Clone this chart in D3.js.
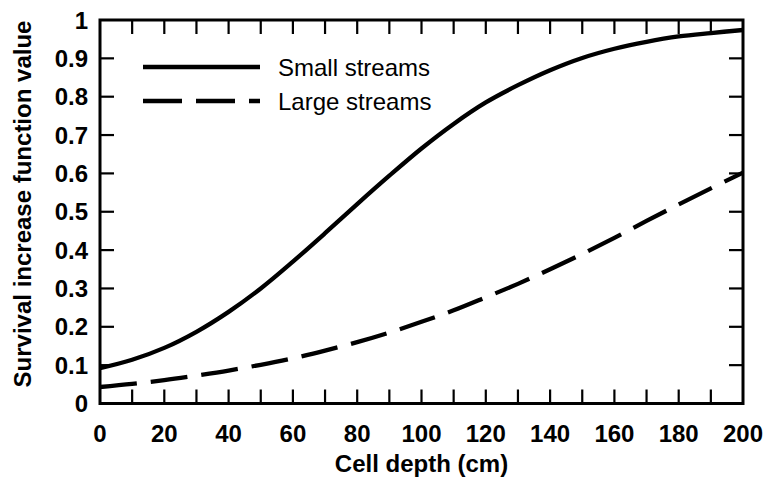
<!DOCTYPE html>
<html><head><meta charset="utf-8">
<script src="https://cdn.jsdelivr.net/npm/d3@7"></script>
<style>body{margin:0;background:#fff}svg{display:block}</style>
</head><body>
<svg id="c" width="768" height="479"></svg>
<script>
const depth = [0,10,20,30,40,50,60,70,80,90,100,110,120,130,140,150,160,170,180,190,200];
const smallStreams = [0.092,0.114,0.145,0.187,0.239,0.300,0.370,0.444,0.520,0.594,0.665,0.729,0.785,0.830,0.869,0.901,0.925,0.943,0.957,0.966,0.974];
const largeStreams = [0.043,0.051,0.061,0.073,0.086,0.101,0.118,0.138,0.160,0.185,0.213,0.243,0.277,0.312,0.350,0.390,0.432,0.476,0.519,0.561,0.602];
const xTickLabels = [0,20,40,60,80,100,120,140,160,180,200];
const yTickLabels = [0,0.1,0.2,0.3,0.4,0.5,0.6,0.7,0.8,0.9,1];
const seriesNames = ["Small streams","Large streams"];

const svg = d3.select("#c");
const L=100, R=743, T=20, B=403.5;
const x = d3.scaleLinear().domain([0,200]).range([L,R]);
const y = d3.scaleLinear().domain([0,1]).range([B,T]);
const font = "Arial, 'Liberation Sans', Helvetica, sans-serif";

const line = d3.line().x((d,i)=>x(depth[i])).y(d=>y(d)).curve(d3.curveCatmullRom.alpha(0.5));
svg.append("clipPath").attr("id","pc").append("rect").attr("x",L).attr("y",T).attr("width",R-L).attr("height",B-T);
const g = svg.append("g").attr("clip-path","url(#pc)");
g.append("path").datum(smallStreams).attr("d",line).attr("fill","none").attr("stroke","#000").attr("stroke-width",4.3).attr("stroke-linejoin","round");
g.append("path").datum(largeStreams).attr("d",line).attr("fill","none").attr("stroke","#000").attr("stroke-width",4.3).attr("stroke-dasharray","37,14");

const tk = 14;
const xMinor = d3.range(0,201,10);
const yMinor = d3.range(0,1.0001,0.1);
const ax = svg.append("g").attr("stroke","#000").attr("stroke-width",2.2);
xMinor.forEach(v=>{
  if(v>0 && v<200){
    ax.append("line").attr("x1",x(v)).attr("x2",x(v)).attr("y1",B).attr("y2",B-tk);
    ax.append("line").attr("x1",x(v)).attr("x2",x(v)).attr("y1",T).attr("y2",T+tk);
  }
});
yMinor.forEach(v=>{
  if(v>0.05 && v<0.95){
    ax.append("line").attr("y1",y(v)).attr("y2",y(v)).attr("x1",L).attr("x2",L+tk);
    ax.append("line").attr("y1",y(v)).attr("y2",y(v)).attr("x1",R).attr("x2",R-tk);
  }
});
svg.append("rect").attr("x",L).attr("y",T).attr("width",R-L).attr("height",B-T).attr("fill","none").attr("stroke","#000").attr("stroke-width",3);

svg.append("g").selectAll("text").data(xTickLabels).join("text")
  .attr("x",d=>x(d)).attr("y",442).attr("text-anchor","middle")
  .attr("font-family",font).attr("font-weight","bold").attr("font-size",24).text(d=>d);
svg.append("g").selectAll("text").data(yTickLabels).join("text")
  .attr("x",88).attr("y",d=>y(d)+8.5).attr("text-anchor","end")
  .attr("font-family",font).attr("font-weight","bold").attr("font-size",24).text(d=>d);

svg.append("text").attr("x",x(100)).attr("y",472).attr("text-anchor","middle")
  .attr("font-family",font).attr("font-weight","bold").attr("font-size",24).text("Cell depth (cm)");
svg.append("text").attr("transform",`translate(31,204) rotate(-90)`).attr("text-anchor","middle")
  .attr("font-family",font).attr("font-weight","bold").attr("font-size",24).text("Survival increase function value");

const leg = svg.append("g");
seriesNames.forEach((n,i)=>{
  const yy = 67 + i*34;
  leg.append("line").attr("x1",143).attr("x2",260).attr("y1",yy).attr("y2",yy).attr("stroke","#000").attr("stroke-width",4.3)
    .attr("stroke-dasharray", i===1 ? "39,14" : null);
  leg.append("text").attr("x",278).attr("y",yy+8.5).attr("font-family",font).attr("font-size",24).text(n);
});
</script>
</body></html>
